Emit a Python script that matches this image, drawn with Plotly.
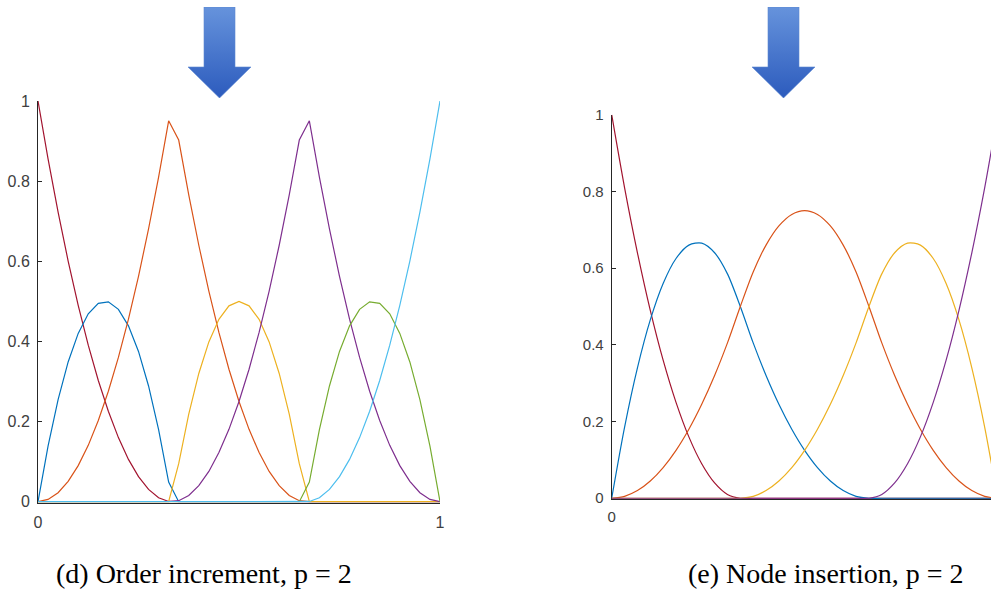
import base64
import plotly.graph_objects as go

W, H = 991, 590

# ---------------- data: (d) order increment, p = 2 ----------------
x_left = [0.0, 0.025, 0.05, 0.075, 0.1, 0.125, 0.15, 0.175, 0.2, 0.225,
          0.25, 0.275, 0.3, 0.325, 0.35, 0.375, 0.4, 0.425, 0.45, 0.475,
          0.5, 0.525, 0.55, 0.575, 0.6, 0.625, 0.65, 0.675, 0.7, 0.725,
          0.75, 0.775, 0.8, 0.825, 0.85, 0.875, 0.9, 0.925, 0.95, 0.975, 1.0]

n0_left = [1.0, 0.8556, 0.7225, 0.6006, 0.49, 0.3906, 0.3025, 0.2256, 0.16, 0.1056,
           0.0625, 0.0306, 0.01, 0.0006, 0, 0, 0, 0, 0, 0,
           0, 0, 0, 0, 0, 0, 0, 0, 0, 0,
           0, 0, 0, 0, 0, 0, 0, 0, 0, 0, 0]
n1_left = [0, 0.1388, 0.255, 0.3488, 0.42, 0.4688, 0.495, 0.4988, 0.48, 0.4388,
           0.375, 0.2888, 0.18, 0.0488, 0, 0, 0, 0, 0, 0,
           0, 0, 0, 0, 0, 0, 0, 0, 0, 0,
           0, 0, 0, 0, 0, 0, 0, 0, 0, 0, 0]
n2_left = [0, 0.0056, 0.0225, 0.0506, 0.09, 0.1406, 0.2025, 0.2756, 0.36, 0.4556,
           0.5625, 0.6806, 0.81, 0.9506, 0.9025, 0.7656, 0.64, 0.5256, 0.4225, 0.3306,
           0.25, 0.1806, 0.1225, 0.0756, 0.04, 0.0156, 0.0025, 0, 0, 0,
           0, 0, 0, 0, 0, 0, 0, 0, 0, 0, 0]
n3_left = [0, 0, 0, 0, 0, 0, 0, 0, 0, 0,
           0, 0, 0, 0, 0.095, 0.2188, 0.32, 0.3988, 0.455, 0.4888,
           0.5, 0.4888, 0.455, 0.3988, 0.32, 0.2188, 0.095, 0, 0, 0,
           0, 0, 0, 0, 0, 0, 0, 0, 0, 0, 0]
n4_left = [0, 0, 0, 0, 0, 0, 0, 0, 0, 0,
           0, 0, 0, 0, 0.0025, 0.0156, 0.04, 0.0756, 0.1225, 0.1806,
           0.25, 0.3306, 0.4225, 0.5256, 0.64, 0.7656, 0.9025, 0.9506, 0.81, 0.6806,
           0.5625, 0.4556, 0.36, 0.2756, 0.2025, 0.1406, 0.09, 0.0506, 0.0225, 0.0056, 0]
n5_left = [0, 0, 0, 0, 0, 0, 0, 0, 0, 0,
           0, 0, 0, 0, 0, 0, 0, 0, 0, 0,
           0, 0, 0, 0, 0, 0, 0, 0.0488, 0.18, 0.2888,
           0.375, 0.4388, 0.48, 0.4988, 0.495, 0.4688, 0.42, 0.3488, 0.255, 0.1388, 0]
n6_left = [0, 0, 0, 0, 0, 0, 0, 0, 0, 0,
           0, 0, 0, 0, 0, 0, 0, 0, 0, 0,
           0, 0, 0, 0, 0, 0, 0, 0.0006, 0.01, 0.0306,
           0.0625, 0.1056, 0.16, 0.2256, 0.3025, 0.3906, 0.49, 0.6006, 0.7225, 0.8556, 1.0]

# ---------------- data: (e) node insertion, p = 2 ----------------
x_right = [0.0, 0.0333, 0.0667, 0.1, 0.1333, 0.1667, 0.2, 0.2333, 0.2667, 0.3,
           0.3333, 0.3667, 0.4, 0.4333, 0.4667, 0.5, 0.5333, 0.5667, 0.6, 0.6333,
           0.6667, 0.7, 0.7333, 0.7667, 0.8, 0.8333, 0.8667, 0.9, 0.9333, 0.9667, 1.0]

n0_right = [1.0, 0.81, 0.64, 0.49, 0.36, 0.25, 0.16, 0.09, 0.04, 0.01,
            0, 0, 0, 0, 0, 0, 0, 0, 0, 0,
            0, 0, 0, 0, 0, 0, 0, 0, 0, 0, 0]
n1_right = [0, 0.185, 0.34, 0.465, 0.56, 0.625, 0.66, 0.665, 0.64, 0.585,
            0.5, 0.405, 0.32, 0.245, 0.18, 0.125, 0.08, 0.045, 0.02, 0.005,
            0, 0, 0, 0, 0, 0, 0, 0, 0, 0, 0]
n2_right = [0, 0.005, 0.02, 0.045, 0.08, 0.125, 0.18, 0.245, 0.32, 0.405,
            0.5, 0.59, 0.66, 0.71, 0.74, 0.75, 0.74, 0.71, 0.66, 0.59,
            0.5, 0.405, 0.32, 0.245, 0.18, 0.125, 0.08, 0.045, 0.02, 0.005, 0]
n3_right = [0, 0, 0, 0, 0, 0, 0, 0, 0, 0,
            0, 0.005, 0.02, 0.045, 0.08, 0.125, 0.18, 0.245, 0.32, 0.405,
            0.5, 0.585, 0.64, 0.665, 0.66, 0.625, 0.56, 0.465, 0.34, 0.185, 0]
n4_right = [0, 0, 0, 0, 0, 0, 0, 0, 0, 0,
            0, 0, 0, 0, 0, 0, 0, 0, 0, 0,
            0, 0.01, 0.04, 0.09, 0.16, 0.25, 0.36, 0.49, 0.64, 0.81, 1.0]

y_ticks = [0, 0.2, 0.4, 0.6, 0.8, 1]
y_tick_text = ["0", "0.2", "0.4", "0.6", "0.8", "1"]
x_ticks = [0, 1]
x_tick_text = ["0", "1"]

captions = ["(d) Order increment, p = 2", "(e) Node insertion, p = 2"]

colors = {
    "darkred": "#A2142F", "blue": "#0072BD", "orange": "#D95319",
    "yellow": "#EDB120", "purple": "#7E2F8E", "green": "#77AC30", "cyan": "#4DBEEE",
}
left_series = [n0_left, n1_left, n2_left, n3_left, n4_left, n5_left, n6_left]
left_colors = ["darkred", "blue", "orange", "yellow", "purple", "green", "cyan"]
right_series = [n0_right, n1_right, n2_right, n3_right, n4_right]
right_colors = ["darkred", "blue", "orange", "yellow", "purple"]

fig = go.Figure()
for ys, c in zip(left_series, left_colors):
    fig.add_trace(go.Scatter(x=x_left, y=ys, mode="lines", xaxis="x", yaxis="y",
                             line=dict(color=colors[c], width=1.2), showlegend=False,
                             hoverinfo="skip"))
for ys, c in zip(right_series, right_colors):
    fig.add_trace(go.Scatter(x=x_right, y=ys, mode="lines", xaxis="x2", yaxis="y2",
                             line=dict(color=colors[c], width=1.2, shape="spline",
                                       smoothing=0.8),
                             showlegend=False, hoverinfo="skip"))


def px_x(p):
    return p / W


def px_y(p):
    return 1 - p / H


axis_common = dict(showline=True, linecolor="#262626", linewidth=1, showgrid=False,
                   zeroline=False, ticks="inside", ticklen=4, tickwidth=1,
                   tickcolor="#262626", layer="below traces", fixedrange=True,
                   automargin=False)

fig.update_layout(
    template="none",
    width=W, height=H, margin=dict(l=0, r=0, t=0, b=0, pad=0, autoexpand=False),
    paper_bgcolor="white", plot_bgcolor="white", showlegend=False,
    xaxis=dict(domain=[px_x(38), px_x(440)], range=[0, 1], anchor="y",
               tickvals=x_ticks, ticktext=x_tick_text, ticklabelstandoff=5,
               tickfont=dict(family="Liberation Sans", size=16, color="#404040"),
               **axis_common),
    yaxis=dict(domain=[px_y(502.5), px_y(101)], range=[-0.002, 1], anchor="x",
               tickvals=y_ticks, ticktext=y_tick_text, ticklabelstandoff=4,
               tickfont=dict(family="Liberation Sans", size=16, color="#404040"),
               **axis_common),
    xaxis2=dict(domain=[px_x(611.7), 1.0], range=[0, 0.983], anchor="y2",
                tickvals=x_ticks, ticktext=x_tick_text, ticklabelstandoff=4,
                tickfont=dict(family="Liberation Sans", size=15, color="#404040"),
                **axis_common),
    yaxis2=dict(domain=[px_y(499), px_y(114.7)], range=[-0.002, 1], anchor="x2",
                tickvals=y_ticks, ticktext=y_tick_text, ticklabelstandoff=4,
                tickfont=dict(family="Liberation Sans", size=15, color="#404040"),
                **axis_common),
)

# captions
for txt, cx in zip(captions, [203.5, 826]):
    fig.add_annotation(text=txt, xref="paper", yref="paper", x=px_x(cx), y=px_y(573),
                       xanchor="center", yanchor="middle", showarrow=False,
                       font=dict(family="Liberation Serif", size=28, color="black"))

# decorative gradient arrows
svg = ('<svg xmlns="http://www.w3.org/2000/svg" width="63" height="91" viewBox="0 0 63 91">'
       '<defs><linearGradient id="g" x1="0" y1="0" x2="0" y2="1">'
       '<stop offset="0" stop-color="#6693dc"/><stop offset="1" stop-color="#2c5bbd"/>'
       '</linearGradient></defs>'
       '<path d="M16 0 L47 0 L47 60 L63 60 L31.5 91 L0 60 L16 60 Z" fill="url(#g)" '
       'stroke="#5a86d2" stroke-width="0.6"/></svg>')
src = "data:image/svg+xml;base64," + base64.b64encode(svg.encode()).decode()
for left in [188, 752]:
    fig.add_layout_image(source=src, xref="paper", yref="paper", x=px_x(left), y=px_y(7),
                         sizex=63 / W, sizey=91 / H, xanchor="left", yanchor="top",
                         sizing="stretch", layer="above")

# remove the default page margin so the 991x590 figure fills the window exactly
fig.write_html("out.html",
               config={"displayModeBar": False},
               post_script="document.body.style.margin='0';"
                           "document.body.style.overflow='hidden';")
